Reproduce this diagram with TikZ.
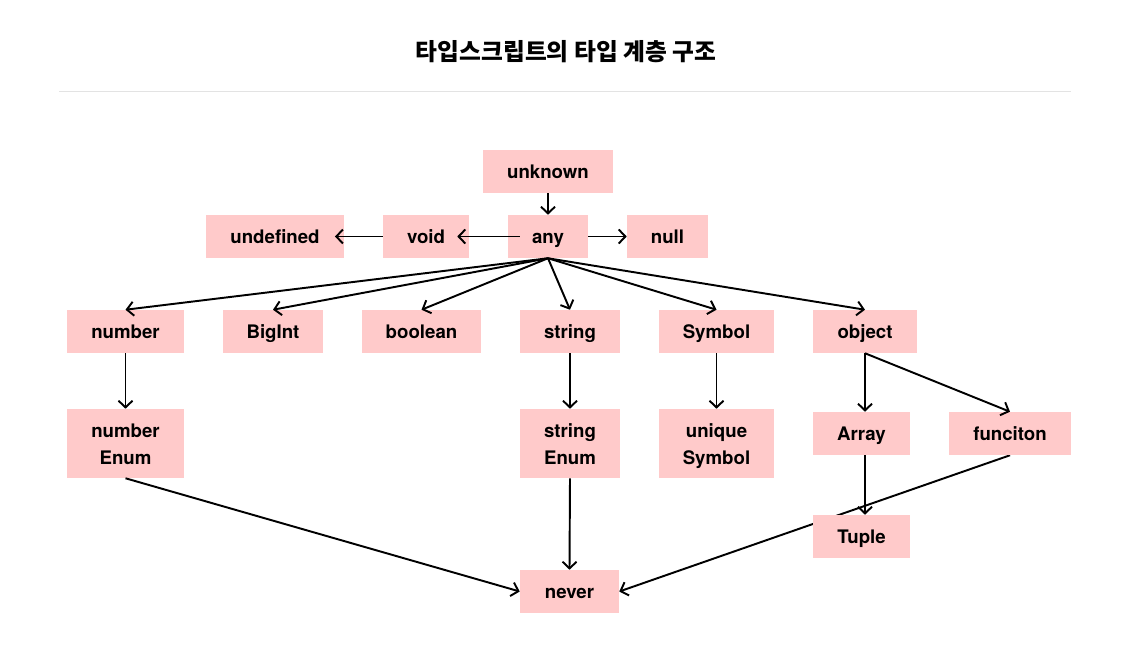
\documentclass[tikz,border=0pt]{standalone}
\usepackage{fontspec}
\setmainfont{TeX Gyre Heros}
\newfontfamily\cjk{Noto Sans CJK KR}
\usetikzlibrary{arrows.meta}
\definecolor{boxpink}{HTML}{FFCACA}
\definecolor{rulegray}{HTML}{E3E3E3}
\pgfdeclarelayer{background}
\pgfsetlayers{background,main}
\begin{document}
\begin{tikzpicture}[x=0.75pt,y=-0.75pt,
  tbox/.style={fill=boxpink, inner sep=0pt, minimum height=32.25pt, text height=11pt, text depth=0pt, font=\bfseries\fontsize{14pt}{20.25pt}\selectfont, align=center, text=black},
  tall/.style={minimum height=51.75pt, text height=31.25pt, text depth=0pt},
  arr/.style={-{Straight Barb[length=5pt,width=10.5pt]}, line width=1.45pt}]
\useasboundingbox (0,0) rectangle (1133,663);
% title
\node[font=\cjk\bfseries\fontsize{17.8pt}{20pt}\selectfont] (title) at (566,52) {타입스크립트의 타입 계층 구조};
\coordinate (r1) at (59,92);
\coordinate (r2) at (1071,92);
\draw[rulegray, line width=0.75pt] (r1) -- (r2);
% nodes
\node[tbox, minimum width=97.5pt] (unknown) at (548,171.5) {unknown};
\node[tbox, minimum width=103.5pt] (undefined) at (275,236.5) {undefined};
\node[tbox, minimum width=64.5pt] (void) at (426,236.5) {void};
\node[tbox, minimum width=60pt] (any) at (548,236.5) {any};
\node[tbox, minimum width=60.75pt] (null) at (667.5,236.5) {null};
\node[tbox, minimum width=87.75pt] (number) at (125.5,331.5) {number};
\node[tbox, minimum width=75pt] (bigint) at (273,331.5) {BigInt};
\node[tbox, minimum width=89.25pt] (boolean) at (421.5,331.5) {boolean};
\node[tbox, minimum width=75pt] (string) at (570,331.5) {string};
\node[tbox, minimum width=86.25pt] (symbol) at (716.5,331.5) {Symbol};
\node[tbox, minimum width=78pt] (object) at (865,331.5) {object};
\node[tbox, tall, minimum width=87.75pt] (numenum) at (125.5,443.5) {number\\Enum};
\node[tbox, tall, minimum width=75pt] (strenum) at (570,443.5) {string\\Enum};
\node[tbox, tall, minimum width=86.25pt] (usym) at (716.5,443.5) {unique\\Symbol};
\node[tbox, minimum width=72.75pt] (array) at (861.5,433.5) {Array};
\node[tbox, minimum width=91.5pt] (func) at (1010,433.5) {funciton};
\node[tbox, minimum width=72.75pt] (tuple) at (861.5,536.5) {Tuple};
\node[tbox, minimum width=74.25pt] (never) at (569.5,591.5) {never};
% background connector (hidden behind Tuple)
\begin{pgfonlayer}{background}
\draw[arr] (func.south) -- (never.east);
\end{pgfonlayer}
% connectors
\draw[arr] (unknown.south) -- (any.north);
\draw[arr] ([xshift=9pt]any.west) -- ([xshift=-9pt]void.east);
\draw[arr] (void.west) -- ([xshift=-7pt]undefined.east);
\draw[arr] (any.east) -- (null.west);
\foreach \t in {number,bigint,boolean,string,symbol,object}
  \draw[arr] (any.south) -- (\t.north);
\draw[arr] (number.south) -- (numenum.north);
\draw[arr] (string.south) -- (strenum.north);
\draw[arr] (symbol.south) -- (usym.north);
\draw[arr] (object.south) -- (object.south |- array.north);
\draw[arr] (object.south) -- (func.north);
\draw[arr] (object.south |- array.south) -- (object.south |- tuple.north);
\draw[arr] (numenum.south) -- (never.west);
\draw[arr] (strenum.south) -- (never.north);
\end{tikzpicture}
\end{document}
